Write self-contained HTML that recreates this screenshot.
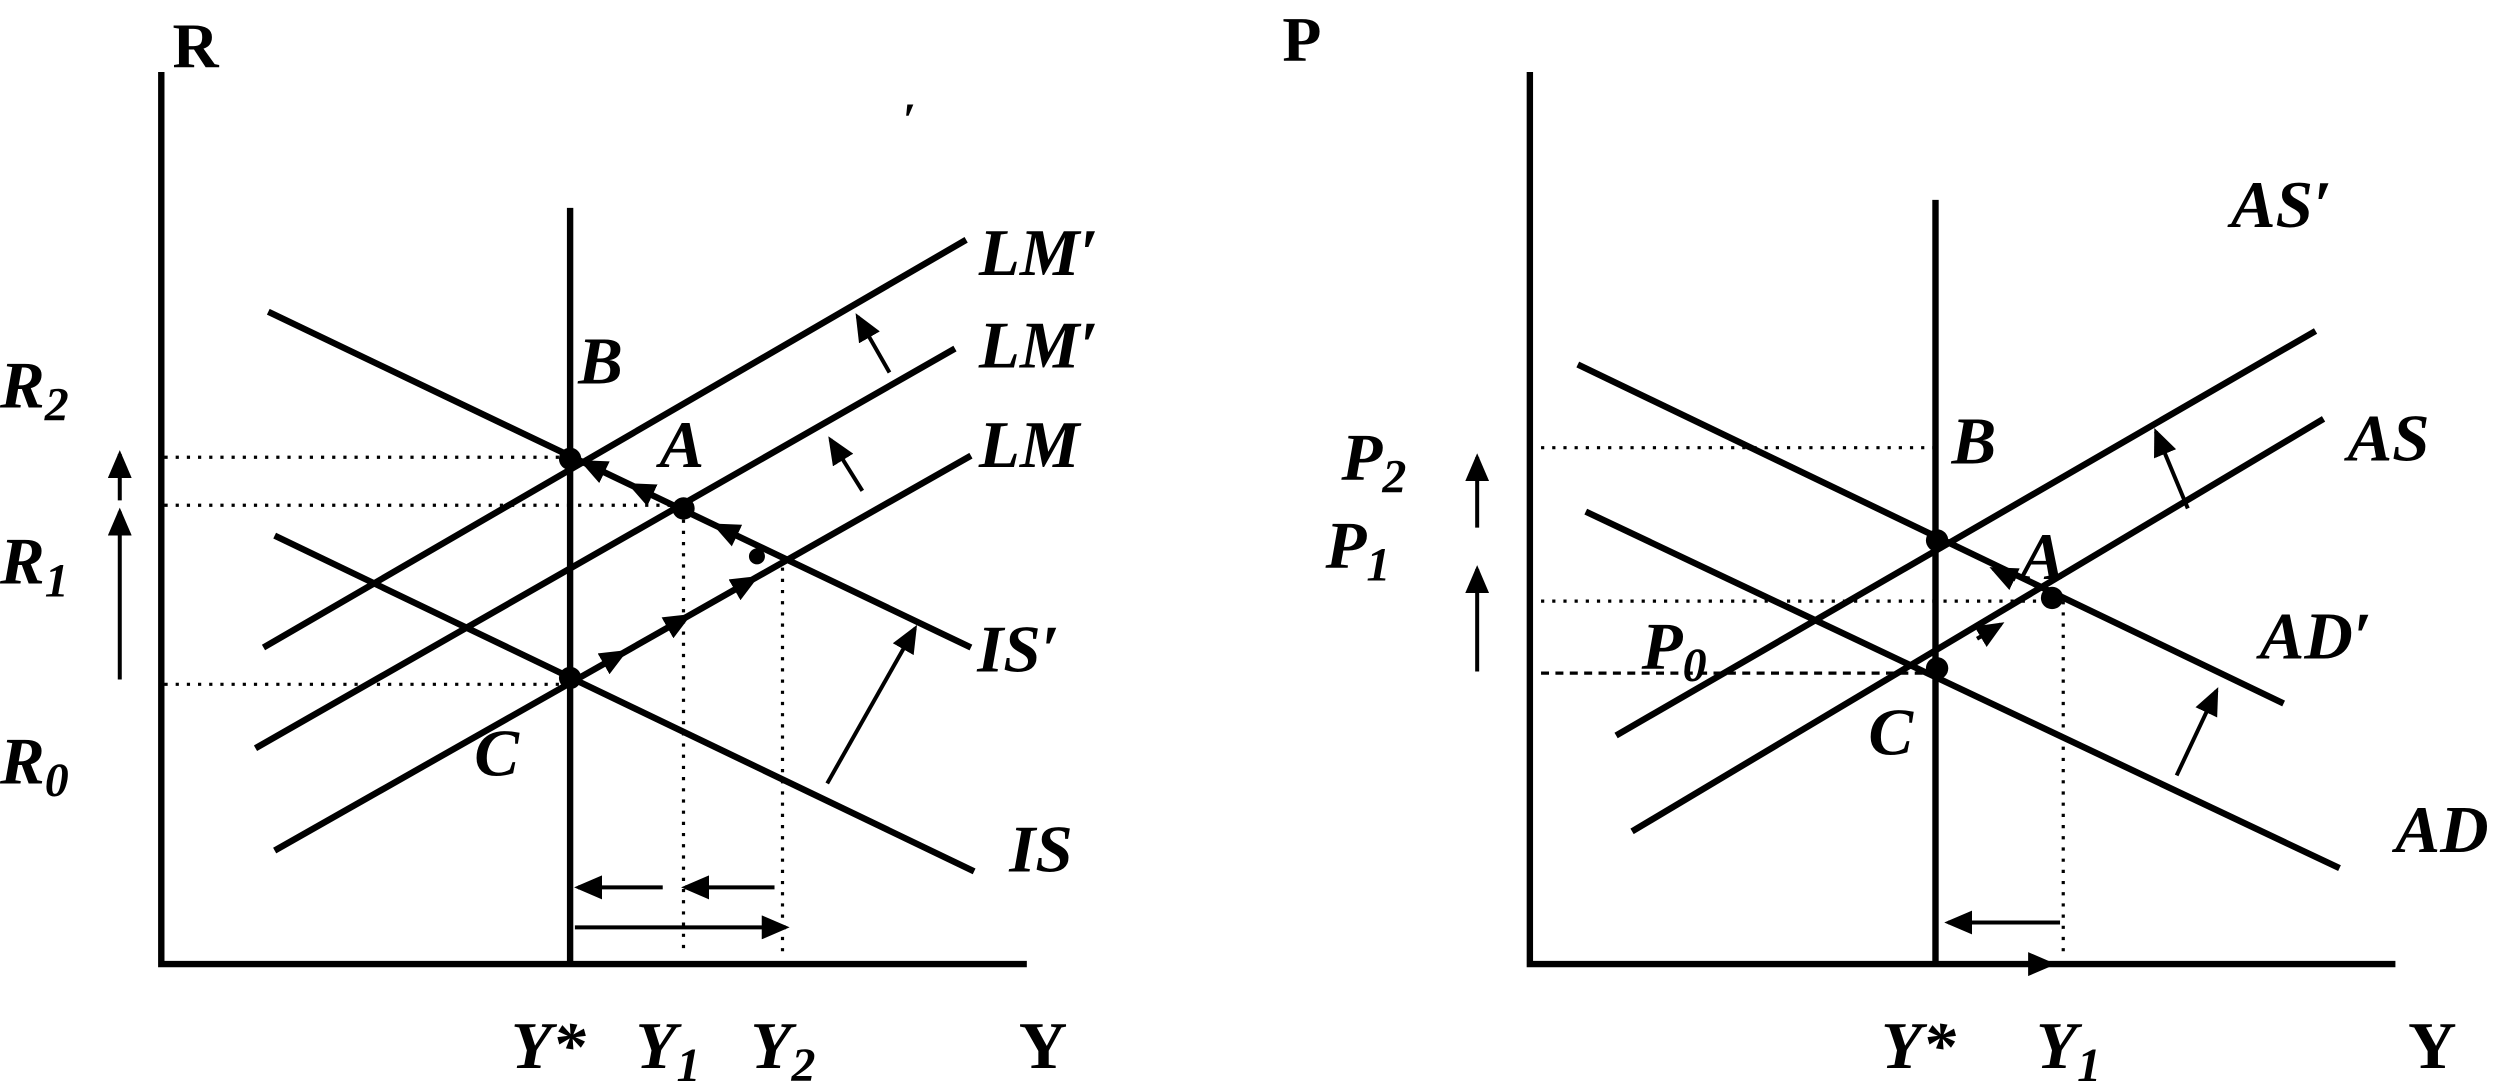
<!DOCTYPE html>
<html><head><style>
html,body{margin:0;padding:0;background:#fff;}
svg{display:block;}
text{font-family:"Liberation Serif",serif;font-weight:bold;fill:#000;}
.i{font-style:italic;}
</style></head><body>
<svg width="2504" height="1092" viewBox="0 0 1568 683" preserveAspectRatio="none">
<defs>
<marker id="ah" markerWidth="7" markerHeight="6" refX="6" refY="3" orient="auto" markerUnits="strokeWidth"><path d="M0,0 L7,3 L0,6 z" fill="#000"/></marker>
</defs>
<g stroke="#000" stroke-width="4" fill="none">
<path d="M101,45 V603 H643"/>
<path d="M357,130 V603"/>
<path d="M165,405 L605,150"/>
<path d="M160,468 L598,218"/>
<path d="M172,532 L608,285"/>
<path d="M168,195 L608,405"/>
<path d="M172,335 L610,545"/>
<path d="M958,45 V603 H1500"/>
<path d="M1212,125 V603"/>
<path d="M1012,460 L1450,207"/>
<path d="M1022,520 L1455,262"/>
<path d="M988,228 L1430,440"/>
<path d="M993,320 L1465,543"/>
</g>
<g stroke="#000" stroke-width="2" stroke-dasharray="2,5" fill="none">
<path d="M103,286 H357 M103,316 H428 M103,428 H357 M428,318 V595 M490,348 V595"/>
<path d="M965,280 H1213 M965,376 H1285 M1292,376 V600"/>
<path d="M965,421 H1213" stroke-dasharray="5,4"/>
</g>
<g stroke="#000" stroke-width="2.5" fill="none" marker-end="url(#ah)">
<path d="M557,233 L537,198"/>
<path d="M540,307 L520,275"/>
<path d="M518,490 L573,393"/>
<path d="M415,555 L362,555"/>
<path d="M485,555 L429,555"/>
<path d="M360,580 L492,580"/>
<path d="M75,313 L75,284"/>
<path d="M75,425 L75,320"/>
<path d="M1370,318 L1350,270"/>
<path d="M1363,485 L1388,432"/>
<path d="M1290,577 L1220,577"/>
<path d="M1215,603 L1285,603"/>
<path d="M925,330 L925,286"/>
<path d="M925,420 L925,356"/>
<!-- path arrows -->
<path d="M376,416.3 L391,407.8"/>
<path d="M416,393.8 L431,385.3"/>
<path d="M458,370 L473,361.5"/>
<path d="M462,335.2 L448,328.5"/>
<path d="M409,310 L395,303.3"/>
<path d="M379,295.6 L365,288.9"/>
<path d="M1238,399.5 L1253,390.5"/>
<path d="M1262,362.5 L1248,355.8"/>
</g>
<g fill="#000">
<circle cx="357" cy="287" r="7"/><circle cx="428" cy="318" r="7"/><circle cx="357" cy="424" r="7"/><circle cx="474" cy="348" r="5"/>
<circle cx="1213" cy="338" r="7"/><circle cx="1285" cy="374" r="7"/><circle cx="1213" cy="418" r="7"/>
</g>
<text x="108" y="42" font-size="40">R</text>
<text x="803" y="38" font-size="40">P</text>
<text x="565" y="85" font-size="30" class="i">′</text>
<text class="i" x="0" y="255" font-size="42">R<tspan font-size="30" dy="8">2</tspan></text>
<text class="i" x="0" y="365" font-size="42">R<tspan font-size="30" dy="8">1</tspan></text>
<text class="i" x="0" y="490" font-size="42">R<tspan font-size="30" dy="8">0</tspan></text>
<text class="i" x="362" y="240" font-size="42">B</text>
<text class="i" x="413" y="292" font-size="42">A</text>
<text class="i" x="297" y="485" font-size="42">C</text>
<text class="i" x="613" y="172" font-size="42">LM′</text>
<text class="i" x="613" y="230" font-size="42">LM′</text>
<text class="i" x="613" y="292" font-size="42">LM</text>
<text class="i" x="612" y="420" font-size="42">IS′</text>
<text class="i" x="632" y="545" font-size="42">IS</text>
<text class="i" x="320" y="668" font-size="42">Y*</text>
<text class="i" x="398" y="668" font-size="42">Y<tspan font-size="30" dy="8">1</tspan></text>
<text class="i" x="470" y="668" font-size="42">Y<tspan font-size="30" dy="8">2</tspan></text>
<text x="638" y="668" font-size="42">Y</text>
<text class="i" x="1397" y="142" font-size="42">AS′</text>
<text class="i" x="1470" y="288" font-size="42">AS</text>
<text class="i" x="1415" y="412" font-size="42">AD′</text>
<text class="i" x="1500" y="533" font-size="42">AD</text>
<text class="i" x="1222" y="290" font-size="42">B</text>
<text class="i" x="1265" y="362" font-size="42">A</text>
<text class="i" x="1170" y="472" font-size="42">C</text>
<text class="i" x="1028" y="418" font-size="42">P<tspan font-size="30" dy="8">0</tspan></text>
<text class="i" x="840" y="300" font-size="42">P<tspan font-size="30" dy="8">2</tspan></text>
<text class="i" x="830" y="355" font-size="42">P<tspan font-size="30" dy="8">1</tspan></text>
<text class="i" x="1178" y="668" font-size="42">Y*</text>
<text class="i" x="1275" y="668" font-size="42">Y<tspan font-size="30" dy="8">1</tspan></text>
<text x="1508" y="668" font-size="42">Y</text>
</svg>
</body></html>
